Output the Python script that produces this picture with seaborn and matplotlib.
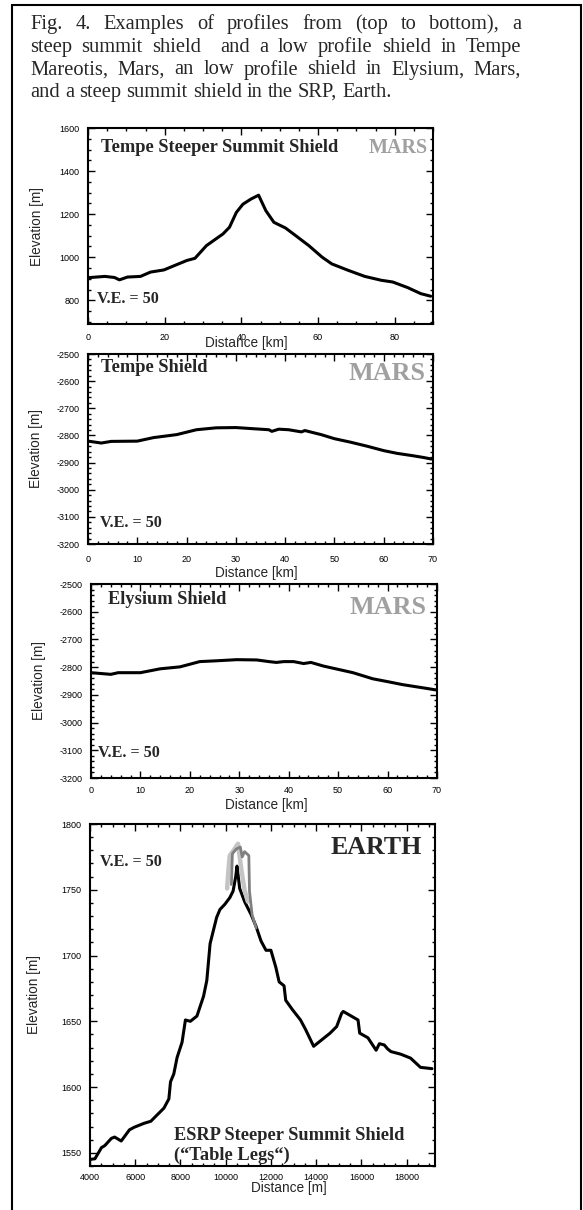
import matplotlib
matplotlib.use("Agg")
import matplotlib.pyplot as plt
import seaborn as sns
import pandas as pd
from matplotlib.patches import Rectangle
from matplotlib.ticker import MultipleLocator

# Tempe steeper summit shield (Mars)
tempe_steep_km = [0, 4.4, 6.9, 8.2, 10.3, 13.7, 16.3, 19.8, 23.2, 25.8, 27.9, 30.9, 35.2, 36.9,
                  38.7, 40.4, 42.5, 44.5, 46.4, 48.5, 51.5, 54.2, 57.6, 61.1, 63.6, 67.9, 72.2,
                  76.5, 79.5, 83.4, 86.8, 89.4]
tempe_steep_m = [905, 911, 906, 895, 908, 911, 931, 941, 966, 985, 995, 1054, 1108, 1139,
                 1208, 1246, 1270, 1288, 1216, 1162, 1136, 1100, 1054, 1000, 969, 939, 911,
                 893, 885, 859, 831, 819]

# Tempe shield (Mars)
tempe_km = [0, 2.7, 4.7, 10, 13.3, 18, 22, 26, 30, 33.3, 36.7, 37.3, 38.7, 40.7, 43.3, 44,
            47.3, 50, 53.3, 56.7, 60, 62.7, 66, 68, 69.7]
tempe_m = [-2821, -2828, -2822, -2821, -2808, -2797, -2779, -2772, -2771, -2775, -2779, -2785,
           -2777, -2779, -2787, -2782, -2797, -2812, -2825, -2840, -2856, -2866, -2875, -2881, -2887]

# Elysium shield (Mars)
elysium_km = [0, 4, 5.5, 10, 14, 18, 22, 25.5, 29.5, 33.5, 36, 37.5, 39, 41, 43, 44.5, 47, 50,
              53, 57, 60.5, 63, 65.5, 68, 69.7]
elysium_m = [-2820, -2826, -2820, -2820, -2806, -2799, -2780, -2777, -2773, -2774, -2780, -2783,
             -2780, -2780, -2787, -2783, -2796, -2808, -2820, -2842, -2854, -2863, -2870, -2877, -2882]

# ESRP steeper summit shield (Earth)
esrp_m_dist = [4000, 4218, 4509, 4654, 4945, 5090, 5380, 5743, 5960, 6396, 6687, 6977, 7268, 7486,
               7559, 7704, 7850, 8068, 8218, 8436, 8727, 9018, 9163, 9308, 9598, 9744, 9962, 10180,
               10325, 10441, 10500, 10616, 10834, 11125, 11343, 11561, 11779, 11997, 12215, 12360,
               12578, 12651, 12942, 13305, 13523, 13886, 14249, 14612, 14903, 15121, 15194, 15848,
               15921, 16284, 16647, 16792, 17010, 17156, 17300, 17736, 18172, 18608, 19117]
esrp_elev = [1545, 1545.5, 1554, 1555.5, 1561, 1562, 1559, 1567.5, 1569.5, 1572.5, 1574, 1579,
             1584, 1591, 1604, 1610, 1622.5, 1634, 1651, 1650, 1654, 1669, 1681, 1709, 1729, 1735,
             1739, 1744, 1749, 1760, 1768, 1751, 1741, 1731, 1722, 1711, 1704, 1704, 1691, 1680,
             1677, 1666, 1659, 1651, 1644, 1631, 1636, 1641, 1646, 1656, 1657.5, 1651, 1641, 1637.5,
             1628, 1633, 1632, 1629, 1627, 1625, 1622, 1615, 1614]

# "table legs" on the summit
legs_light_x = [10061, 10120, 10178, 10350, 10541, 10686, 10830, 10977]
legs_light_y = [1751, 1765, 1776, 1780, 1785, 1766, 1750, 1741]
legs_dark_x = [10250, 10294, 10468, 10643, 10730, 10832, 11021, 11050, 11166, 11343]
legs_dark_y = [1754, 1777.5, 1781, 1782.5, 1775, 1779, 1776, 1749, 1731, 1721]

caption = ["Fig. 4. Examples of profiles from (top to bottom), a",
           "steep summit shield  and a low profile shield in Tempe",
           "Mareotis, Mars, an low profile shield in Elysium, Mars,",
           "and a steep summit shield in the SRP, Earth."]

sns.set_style("ticks")
plt.rcParams['font.family'] = ['Liberation Sans', 'DejaVu Sans']
plt.rcParams['axes.linewidth'] = 1.5
plt.rcParams['axes.unicode_minus'] = False

W, H = 583, 1210
fig = plt.figure(figsize=(W / 100, H / 100), dpi=100)


def box(l, t, r, b):
    return [l / W, 1 - b / H, (r - l) / W, (b - t) / H]


def put(x, y, s, **kw):
    fig.text(x / W, 1 - y / H, s, family='Liberation Serif', weight='bold', va='center', **kw)


def style(ax, xmaj, xmin, ymaj, ymin, xpad, ypad):
    ax.xaxis.set_major_locator(MultipleLocator(xmaj))
    ax.xaxis.set_minor_locator(MultipleLocator(xmin))
    ax.yaxis.set_major_locator(MultipleLocator(ymaj))
    ax.yaxis.set_minor_locator(MultipleLocator(ymin))
    ax.tick_params(which='both', direction='in', top=True, right=True, colors='black',
                   labelsize=6.5, width=1)
    ax.tick_params(which='major', length=5)
    ax.tick_params(which='minor', length=2.5)
    ax.tick_params(axis='x', pad=xpad)
    ax.tick_params(axis='y', pad=ypad)
    for s in ax.spines.values():
        s.set_visible(True)
        s.set_color('black')


panels = [
    (box(88, 128, 433, 324), tempe_steep_km, tempe_steep_m, (0, 90), (690, 1600), (20, 5, 200, 50),
     'Distance [km]', (0.46, -0.097), 6.5, 37),
    (box(88, 354, 433, 544), tempe_km, tempe_m, (0, 70), (-3200, -2500), (10, 2, 100, 20),
     'Distance [km]', (0.487, -0.153), 8, 36),
    (box(91, 584, 437, 778), elysium_km, elysium_m, (0, 70), (-3200, -2500), (10, 2, 100, 20),
     'Distance [km]', (0.506, -0.139), 5.8, 39),
    (box(90, 824, 435, 1166), esrp_m_dist, esrp_elev, (4000, 19250), (1540, 1800), (2000, 500, 50, 10),
     'Distance [m]', (0.577, -0.064), 5, 34),
]

axes = []
for rect, xs, ys, xl, yl, loc, xlab, xlc, xpad, ylx in panels:
    ax = fig.add_axes(rect)
    df = pd.DataFrame({'d': xs, 'e': ys})
    sns.lineplot(data=df, x='d', y='e', ax=ax, color='black', lw=2.2, sort=False)
    ax.set_xlim(*xl)
    ax.set_ylim(*yl)
    style(ax, *loc, xpad, 6)
    ax.set_xlabel(xlab, fontsize=9.8)
    ax.set_ylabel('Elevation [m]', fontsize=9.8)
    ax.xaxis.set_label_coords(*xlc)
    ax.xaxis.label.set_va('center')
    ax.yaxis.label.set_va('center')
    ax.yaxis.set_label_coords((ylx - rect[0] * W) / (rect[2] * W), 0.5)
    axes.append(ax)

# summit "legs" in grey
ax4 = axes[3]
sns.lineplot(x=legs_light_x, y=legs_light_y, ax=ax4, color='#c4c4c4', lw=3.2, sort=False)
sns.lineplot(x=legs_dark_x, y=legs_dark_y, ax=ax4, color='#808080', lw=2, sort=False)

# caption, justified like the original text box (last line left aligned)
renderer = fig.canvas.get_renderer()
cap_kw = dict(family='Liberation Serif', fontsize=14.75, va='baseline', ha='left')
cap_left, cap_right = 30, 521
baselines = [29, 52, 74.5, 97]


def text_w(s):
    t = fig.text(0, 0, s, **cap_kw)
    w = t.get_window_extent(renderer).width
    t.remove()
    return w


space_w = text_w('a a') - 2 * text_w('a')
for i, line in enumerate(caption):
    words = line.split(' ')
    widths = [text_w(w) if w else 0 for w in words]
    if i < len(caption) - 1:
        gap = (cap_right - cap_left - sum(widths)) / (len(words) - 1)
    else:
        gap = space_w
    x = cap_left
    for w, wd in zip(words, widths):
        if w:
            fig.text(x / W, 1 - baselines[i] / H, w, **cap_kw)
        x += wd + gap

# panel annotations
put(101, 148, 'Tempe Steeper Summit Shield', fontsize=13.2)
put(428, 148, 'MARS', fontsize=14.5, color='#a0a0a0', ha='right')
put(97, 299, 'V.E. = 50', fontsize=11.6)

put(101, 368, 'Tempe Shield', fontsize=13.2)
put(425, 373, 'MARS', fontsize=18.8, color='#a0a0a0', ha='right')
put(100, 523, 'V.E. = 50', fontsize=11.6)

put(108, 600, 'Elysium Shield', fontsize=13.2)
put(427, 608, 'MARS', fontsize=18.8, color='#a0a0a0', ha='right')
put(98, 753, 'V.E. = 50', fontsize=11.6)

put(422, 848, 'EARTH', fontsize=18.6, ha='right')
put(100, 862, 'V.E. = 50', fontsize=11.6)
put(174, 1135, 'ESRP Steeper Summit Shield', fontsize=13.2)
put(174, 1155, '(\u201cTable Legs\u201c)', fontsize=13.2)

# outer frame
fig.add_artist(Rectangle((12 / W, -0.01), (581 - 12) / W, 1 - 5 / H + 0.01, transform=fig.transFigure,
                         fill=False, lw=1.5, ec='black'))

fig.savefig('out.png', dpi=100)
